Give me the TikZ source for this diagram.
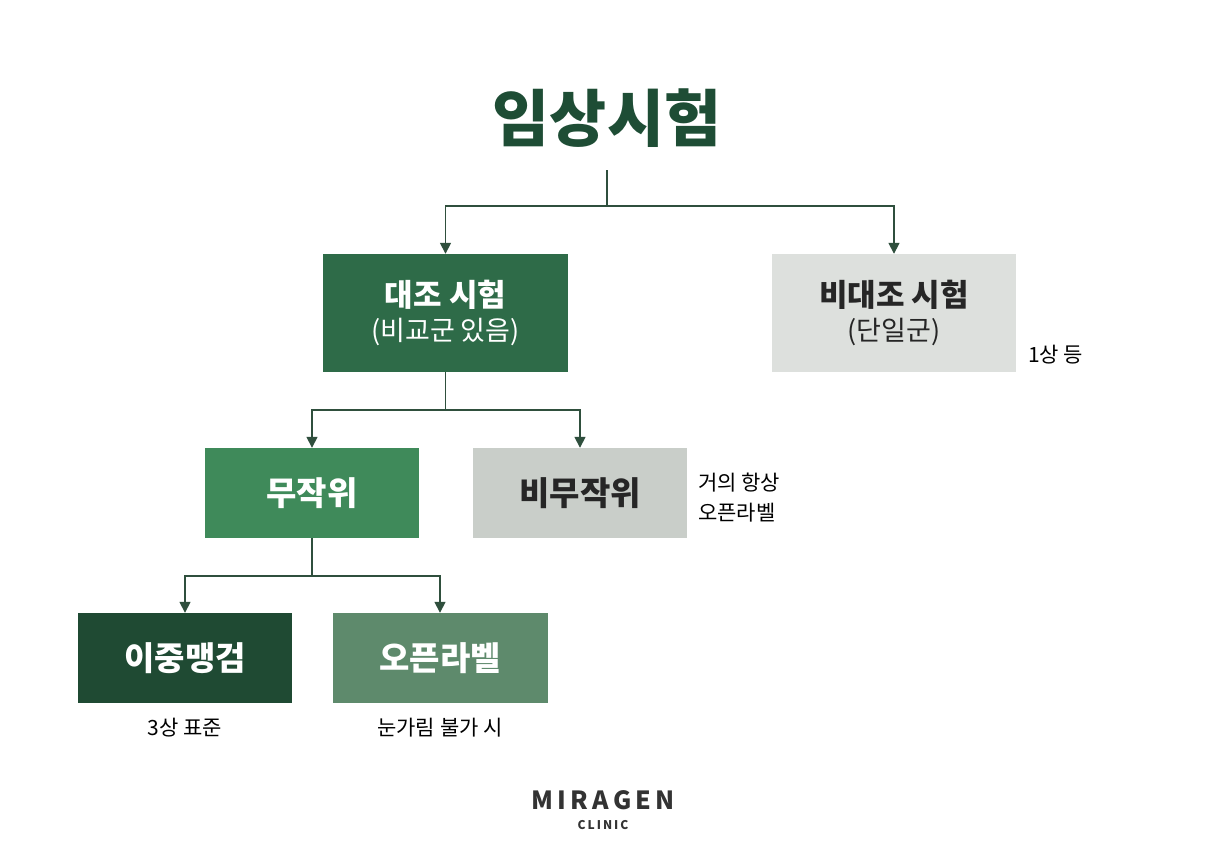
\documentclass[tikz,border=0pt]{standalone}
\usepackage{fontspec}
\setmainfont{Noto Sans CJK KR}
\usetikzlibrary{arrows.meta}
\definecolor{dk}{HTML}{1E4D35}
\definecolor{c1}{HTML}{2E6B48}
\definecolor{c2}{HTML}{3F8A5A}
\definecolor{c3}{HTML}{1F4A33}
\definecolor{c4}{HTML}{5E8A6C}
\definecolor{g1}{HTML}{DDE0DD}
\definecolor{g2}{HTML}{C9CEC9}
\definecolor{ln}{HTML}{2F4F3D}
\begin{document}
\begin{tikzpicture}[x=1pt,y=-1pt,
 box/.style={draw=none,minimum width=#1pt,align=center,inner sep=0pt},
 con/.style={draw=ln,line width=1.6pt},
 arr/.style={con,-{Triangle[length=11pt,width=11pt]}},
 lab/.style={font=\fontsize{21}{30}\selectfont,text=black,inner sep=0pt}]
\useasboundingbox[fill=white] (0,0) rectangle (1207,864);
\node[text=dk,font=\fontsize{62}{70}\bfseries\selectfont] (title) at (607,118) {임상시험};
\node[box=245,minimum height=118pt,fill=c1,text=white] (ctrl) at (445.5,313)
 {{\fontsize{31}{40}\bfseries\selectfont 대조 시험}\\[8pt]{\fontsize{27}{36}\selectfont (비교군 있음)}};
\node[box=244,minimum height=118pt,fill=g1,text=black!85] (nctrl) at (894,313)
 {{\fontsize{31}{40}\bfseries\selectfont 비대조 시험}\\[8pt]{\fontsize{27}{36}\selectfont (단일군)}};
\node[lab,anchor=west] (n1) at (1028,355) {1상 등};
\node[box=214,minimum height=90pt,fill=c2,text=white,font=\fontsize{33}{40}\bfseries\selectfont] (rand) at (312,493) {무작위};
\node[box=214,minimum height=90pt,fill=g2,text=black!85,font=\fontsize{33}{40}\bfseries\selectfont] (nrand) at (580,493) {비무작위};
\node[lab,anchor=west,align=left] (n2) at (698,498) {거의 항상\\오픈라벨};
\node[box=214,minimum height=90pt,fill=c3,text=white,font=\fontsize{33}{40}\bfseries\selectfont] (db) at (185,658) {이중맹검};
\node[box=215,minimum height=90pt,fill=c4,text=white,font=\fontsize{33}{40}\bfseries\selectfont] (ol) at (440,658) {오픈라벨};
\node[lab] (n3) at (185,728) {3상 표준};
\node[lab] (n4) at (440,728) {눈가림 불가 시};
\node[text=black!80,font=\fontsize{25}{28}\bfseries\selectfont] (brand) at (603,800) {M\,I\,R\,A\,G\,E\,N};
\node[text=black!80,font=\fontsize{12}{13}\bfseries\selectfont] (clinic) at (603,825) {C\,L\,I\,N\,I\,C};
\coordinate (j1) at (607,206);
\draw[con] (607,170) -- (j1);
\draw[arr] (j1) -| (ctrl.north);
\draw[arr] (j1) -| (nctrl.north);
\coordinate (j2) at (445.5,410);
\draw[con] (ctrl.south) -- (j2);
\draw[arr] (j2) -| (rand.north);
\draw[arr] (j2) -| (nrand.north);
\coordinate (j3) at (312,576);
\draw[con] (rand.south) -- (j3);
\draw[arr] (j3) -| (db.north);
\draw[arr] (j3) -| (ol.north);
\end{tikzpicture}
\end{document}
